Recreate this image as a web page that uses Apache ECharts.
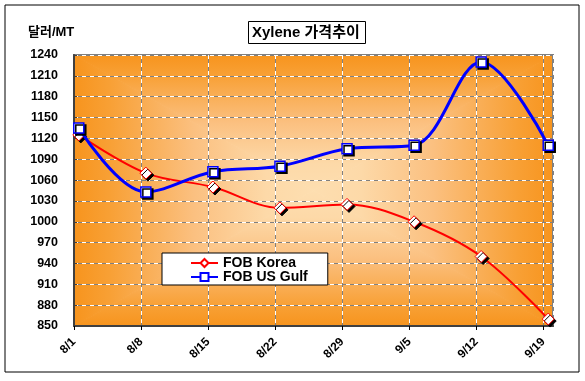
<!DOCTYPE html>
<html lang="ko">
<head>
    <meta http-equiv="Content-Type" content="text/html; charset=UTF-8">
    <title>Xylene 가격추이</title>
    <script type="text/javascript" src="https://cdnjs.cloudflare.com/ajax/libs/echarts/6.0.0/echarts.min.js"></script>
    <style>
        body { margin: 0; background: #fff; }
        #main { width: 585px; height: 381px; }
    </style>
</head>
<body>
    <div id="main"></div>

    <script type="text/javascript">
        // 날짜 (주간)
        var dates = ['8/1', '8/8', '8/15', '8/22', '8/29', '9/5', '9/12', '9/19'];
        // 가격 (달러/MT)
        var fobKorea = [1125, 1070, 1050, 1020, 1025, 1000, 950, 860];
        var fobUsGulf = [1135, 1043, 1072, 1080, 1105, 1110, 1230, 1110];
        var yMin = 850, yMax = 1240, yStep = 30;

        var font = '"Liberation Sans", Arial, "Noto Sans CJK KR", sans-serif';

        // 날짜 인덱스 -> x 위치 (일 단위, 7일 간격)
        function toPoints(arr) {
            return arr.map(function (v, i) { return [i * 7 + 0.5, v]; });
        }

        // 플롯 영역 (px)
        var plot = { left: 74, top: 55, right: 553, bottom: 326 };
        var cx = (plot.left + plot.right) / 2, cy = (plot.top + plot.bottom) / 2;

        // 가운데에서 퍼지는 사각형 그라데이션 (엑셀 스타일) - 삼각형 4개
        function tri(points, x0, y0, x1, y1) {
            var g = new echarts.graphic.LinearGradient(x0, y0, x1, y1, [
                { offset: 0, color: '#F7941D' },
                { offset: 0.15, color: '#F8A035' },
                { offset: 0.5, color: '#FBC080' },
                { offset: 0.8, color: '#FDD9A8' },
                { offset: 1, color: '#FDDEB0' }
            ]);
            return {
                type: 'polygon',
                z: -10,
                silent: true,
                shape: { points: points },
                style: { fill: g, stroke: g, lineWidth: 1 }
            };
        }

        var myChart = echarts.init(document.getElementById('main'));

        var dashWhite = { color: '#ffffff', type: [4, 4], width: 1 };
        var dashGray = { color: '#808080', type: [4, 4], dashOffset: 4, width: 1 };

        myChart.setOption({
            animation: false,
            textStyle: { fontFamily: font },
            title: {
                text: 'Xylene 가격추이',
                left: 248,
                top: 21,
                padding: [3, 6, 2, 4],
                borderColor: '#000',
                borderWidth: 1,
                backgroundColor: '#fff',
                textStyle: { fontSize: 15, fontWeight: 'bold', color: '#000', fontFamily: font, lineHeight: 18 }
            },
            legend: {
                orient: 'vertical',
                left: 162,
                top: 253,
                padding: [3, 20, 1, 28],
                itemGap: 0,
                itemWidth: 27,
                itemHeight: 10,
                backgroundColor: '#fff',
                borderColor: '#000',
                borderWidth: 1,
                textStyle: { fontSize: 14, fontWeight: 'bold', color: '#000', fontFamily: font },
                data: ['FOB Korea', 'FOB US Gulf']
            },
            graphic: [{
                type: 'rect',
                shape: { x: 5, y: 5, width: 574, height: 367 },
                style: { fill: 'none', stroke: '#000', lineWidth: 1 },
                z: -1
            }, {
                type: 'text',
                left: 28,
                top: 26,
                style: { text: '달러/MT', font: 'bold 13px ' + font, fill: '#000' }
            },
                tri([[plot.left, plot.top], [plot.right, plot.top], [cx, cy]], 0, 0, 0, 1),
                tri([[plot.left, plot.bottom], [plot.right, plot.bottom], [cx, cy]], 0, 1, 0, 0),
                tri([[plot.left, plot.top], [plot.left, plot.bottom], [cx, cy]], 0, 0, 1, 0),
                tri([[plot.right, plot.top], [plot.right, plot.bottom], [cx, cy]], 1, 0, 0, 0)
            ],
            grid: {
                left: plot.left,
                right: 585 - plot.right,
                top: plot.top,
                bottom: 381 - plot.bottom,
                show: true,
                borderColor: '#808080',
                borderWidth: 2,
                backgroundColor: 'transparent'
            },
            xAxis: [{
                type: 'value',
                min: 0,
                max: 50,
                interval: 7,
                axisLine: { show: true, onZero: false, lineStyle: { color: '#404040', width: 2 } },
                axisTick: { show: true, length: 4, lineStyle: { color: '#000' } },
                splitLine: { show: true, lineStyle: dashWhite },
                axisLabel: {
                    rotate: 45,
                    margin: 14,
                    showMaxLabel: false,
                    fontSize: 12,
                    fontWeight: 'bold',
                    color: '#000',
                    formatter: function (v) { return dates[Math.round(v / 7)] || ''; }
                }
            }, {
                type: 'value',
                position: 'bottom',
                min: 0,
                max: 50,
                interval: 7,
                axisLine: { show: false },
                axisTick: { show: false },
                axisLabel: { show: false },
                splitLine: { show: true, lineStyle: dashGray }
            }],
            yAxis: [{
                type: 'value',
                min: yMin,
                max: yMax,
                interval: yStep,
                axisLine: { show: true, lineStyle: { color: '#404040', width: 2 } },
                axisTick: { show: true, inside: true, length: 3, lineStyle: { color: '#404040' } },
                splitLine: { show: true, lineStyle: dashWhite },
                axisLabel: {
                    margin: 16, fontSize: 12.5, fontWeight: 'bold', color: '#000',
                    formatter: function (v) { return String(v); }
                }
            }, {
                type: 'value',
                position: 'left',
                min: yMin,
                max: yMax,
                interval: yStep,
                axisLine: { show: false },
                axisTick: { show: false },
                axisLabel: { show: false },
                splitLine: { show: true, lineStyle: dashGray }
            }],
            series: [{
                name: 'FOB Korea',
                type: 'line',
                smooth: 0.35,
                data: toPoints(fobKorea),
                symbol: 'diamond',
                symbolSize: 12,
                lineStyle: { color: '#FF0000', width: 2 },
                itemStyle: {
                    color: '#fff',
                    borderColor: '#FF0000',
                    borderWidth: 1,
                    shadowColor: '#000',
                    shadowOffsetX: 2,
                    shadowOffsetY: 2,
                    shadowBlur: 0
                },
                z: 3
            }, {
                name: 'FOB US Gulf',
                type: 'line',
                smooth: 0.35,
                data: toPoints(fobUsGulf),
                symbol: 'rect',
                symbolSize: 10,
                lineStyle: { color: '#0000FF', width: 3 },
                itemStyle: {
                    color: '#fff',
                    borderColor: '#0000FF',
                    borderWidth: 1.5,
                    shadowColor: '#000',
                    shadowOffsetX: 2,
                    shadowOffsetY: 2,
                    shadowBlur: 0
                },
                z: 4
            }]
        });
    </script>
</body>
</html>
